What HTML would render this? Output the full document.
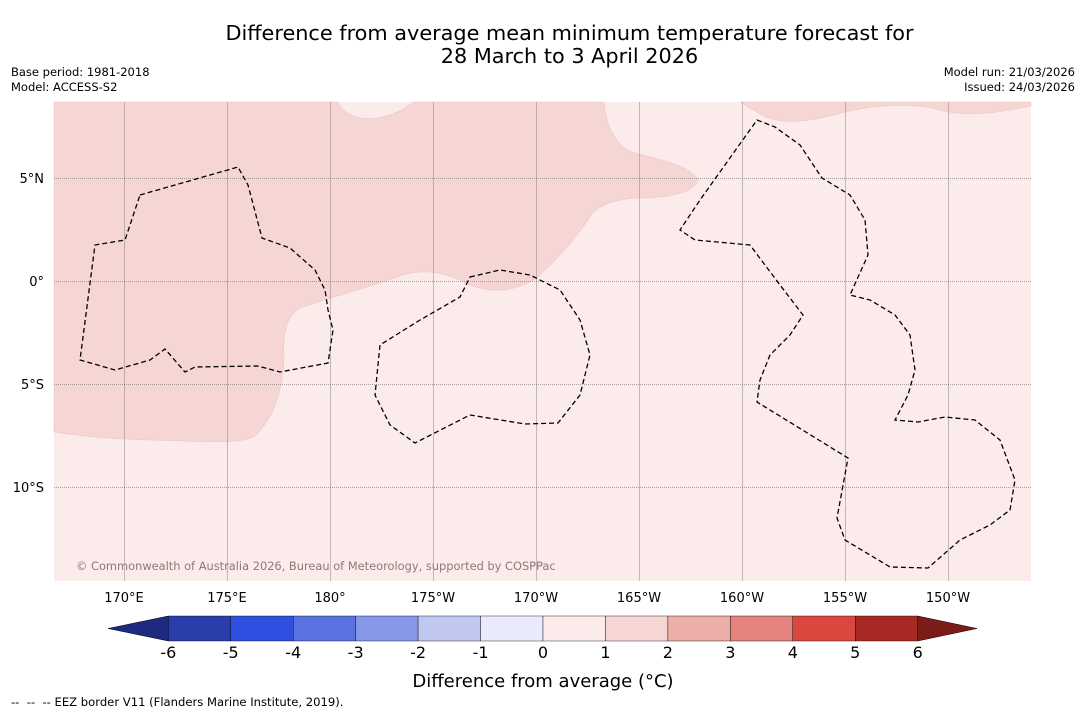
<!DOCTYPE html>
<html><head><meta charset="utf-8"><style>
body{margin:0;background:#fff;font-family:"DejaVu Sans","Liberation Sans",sans-serif;}
#wrap{position:relative;width:1085px;height:713px;overflow:hidden;}
.t{position:absolute;color:#000;white-space:nowrap;}
</style></head><body>
<div id="wrap">
<div class="t" style="left:0;width:1139px;text-align:center;top:22px;font-size:20.8px;line-height:23px;">Difference from average mean minimum temperature forecast for<br>28 March to 3 April 2026</div>
<div class="t" style="left:11px;top:65px;font-size:11.5px;line-height:15px;">Base period: 1981-2018<br>Model: ACCESS-S2</div>
<div class="t" style="right:10px;top:65px;font-size:11.5px;line-height:15px;text-align:right;">Model run: 21/03/2026<br>Issued: 24/03/2026</div>
<svg id="map" width="1085" height="713" style="position:absolute;left:0;top:0" xmlns="http://www.w3.org/2000/svg"></svg>
<div class="t" style="left:11px;top:695px;font-size:11.6px;">-- &nbsp;-- &nbsp;-- EEZ border V11 (Flanders Marine Institute, 2019).</div>
</div>
<script>
const lonTicks=["170°E","175°E","180°","175°W","170°W","165°W","160°W","155°W","150°W"];
const lonVals=[170,175,180,185,190,195,200,205,210];
const latTicks=["5°N","0°","5°S","10°S"];
const latVals=[5,0,-5,-10];
const cbLevels=[-6,-5,-4,-3,-2,-1,0,1,2,3,4,5,6];
const cbColors=["#2a3eab","#2f4fe0","#5a72e2","#8797e8","#c0c8f2","#eaebfa","#fbeceb","#f5d6d4","#ebaea8","#e5847d","#d9473f","#a82a24"];
const NS="http://www.w3.org/2000/svg";
const svg=document.getElementById('map');
const X=l=>124+(l-170)*20.6, Y=a=>281-a*20.6;
const cbX=v=>543+v*62.45;
function el(t,a,p){const e=document.createElementNS(NS,t);for(const k in a)e.setAttribute(k,a[k]);(p||svg).appendChild(e);return e;}
const bg=el('rect',{x:54,y:102,width:977,height:479,fill:'#fbeceb'});


const r1=el('path',{d:"M54,102 L338,102 C345,120 380,128 413,102 L604,102 C606,125 615,145 632,152 C660,160 690,165 698,180 C695,192 670,198 640,198 C615,199 600,205 592,214 C575,240 555,262 535,279 C515,292 490,293 470,285 C445,272 425,268 400,276 C370,287 335,296 300,308 C285,318 283,335 284,360 C282,395 272,420 255,436 C240,445 200,441 150,440 C110,439 80,436 54,432 Z",fill:'#f5d6d4',stroke:'#e8c4c0','stroke-width':0.5});


const r2=el('path',{d:"M740,102 L1031,102 L1031,106 C1000,112 970,118 940,110 C915,103 880,104 845,112 C810,122 780,126 760,114 Z",fill:'#f5d6d4',stroke:'#e8c4c0','stroke-width':0.5});


lonVals.forEach((v,i)=>{
 const ln=el('line',{x1:Math.round(X(v))+0.5,x2:Math.round(X(v))+0.5,y1:102,y2:581,stroke:'#8a8080','stroke-width':0.5});
 
 
 const tx=el('text',{x:X(v),y:602,'font-size':13,'text-anchor':'middle','font-family':'DejaVu Sans,sans-serif'});tx.textContent=lonTicks[i];
 
 
});
latVals.forEach((v,i)=>{
 const ln=el('line',{x1:54,x2:1031,y1:Math.round(Y(v))+0.5,y2:Math.round(Y(v))+0.5,stroke:'#555','stroke-width':0.6,'stroke-dasharray':'1,1'});
 
 
 const tx=el('text',{x:44,y:Y(v)+5,'font-size':13,'text-anchor':'end','font-family':'DejaVu Sans,sans-serif'});tx.textContent=latTicks[i];
 
 
});
const eez=["M140,195 L175,185 L238,167 L248,185 L262,238 L290,248 L315,270 L325,290 L328,310 L333,330 L328,363 L280,372 L258,366 L195,367 L185,372 L165,349 L150,360 L115,370 L80,360 L95,245 L125,240 Z",
"M470,277 L500,270 L530,275 L560,290 L580,320 L590,355 L580,395 L558,423 L525,424 L470,415 L415,443 L390,425 L375,395 L380,345 L420,320 L460,297 Z",
"M757,120 L775,127 L800,145 L822,178 L850,195 L865,220 L868,255 L850,295 L870,300 L895,315 L910,335 L915,370 L908,395 L895,420 L918,422 L945,417 L975,420 L1000,440 L1015,480 L1010,510 L990,525 L960,540 L928,568 L890,567 L845,540 L837,518 L848,458 L757,402 L760,380 L770,355 L790,335 L803,315 L780,285 L750,245 L695,240 L680,230 L700,200 Z"];
eez.forEach(d=>{const p=el('path',{d,fill:'none',stroke:'#000','stroke-width':1.3,'stroke-dasharray':'5,3'});
 
 });
const cp=el('text',{x:76,y:570,'font-size':11.4,fill:'#8a7a78','font-family':'DejaVu Sans,sans-serif'});cp.textContent="© Commonwealth of Australia 2026, Bureau of Meteorology, supported by COSPPac";


const lt=el('path',{d:`M${cbX(-6)},616 L${cbX(-6)},641 L108,628.5 Z`,fill:'#1e2a80',stroke:'#000','stroke-width':0.5});


const rt=el('path',{d:`M${cbX(6)},616 L${cbX(6)},641 L977,628.5 Z`,fill:'#7a1d18',stroke:'#000','stroke-width':0.5});


cbColors.forEach((c,i)=>{
 const r=el('rect',{x:cbX(cbLevels[i]),y:616,width:cbX(cbLevels[i+1])-cbX(cbLevels[i]),height:25,fill:c,stroke:'#000','stroke-width':0.4});
 
 
});
cbLevels.forEach(v=>{
 const t=el('text',{x:cbX(v),y:658,'font-size':16,'text-anchor':'middle','font-family':'DejaVu Sans,sans-serif'});t.textContent=String(v);
 
 
});
const at=el('text',{x:543,y:687,'font-size':18,'text-anchor':'middle','font-family':'DejaVu Sans,sans-serif'});at.textContent="Difference from average (°C)";


</script>
</body></html>
